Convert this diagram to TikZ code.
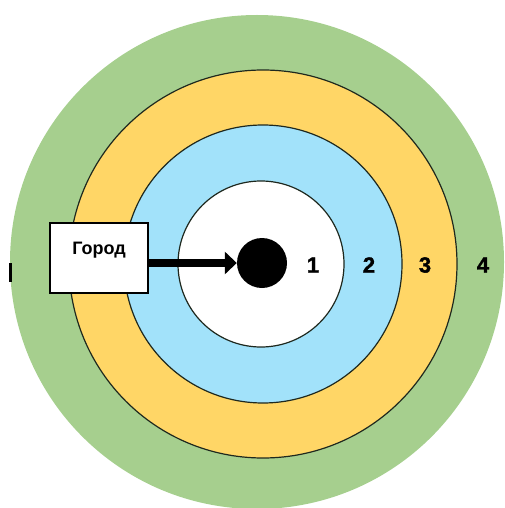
\documentclass[tikz,border=0pt]{standalone}
\usepackage{fontspec}
\setmainfont{Liberation Sans}
\newfontfamily\heavyfont[UprightFont={* Bold}, FakeBold=1.6]{Liberation Sans}
\usetikzlibrary{arrows.meta}
\definecolor{ringgreen}{RGB}{166,207,142}
\definecolor{ringyellow}{RGB}{255,214,102}
\definecolor{ringblue}{RGB}{162,226,250}
\definecolor{ringline}{RGB}{30,40,30}
\tikzset{
  ring/.style={draw=ringline, line width=1.2pt},
  numlabel/.style={font=\fontsize{22}{24}\heavyfont, inner sep=0pt},
  citybox/.style={draw=black, line width=2pt, fill=white, minimum width=98pt, minimum height=70pt,
    inner sep=0pt, text height=13pt, text depth=21pt, font=\fontsize{18}{20}\selectfont\bfseries},
  core/.style={circle, fill=black, minimum size=50pt, inner sep=0pt},
  pointer/.style={line width=8pt, -{Triangle[length=12pt,width=22pt]}}
}
\begin{document}
\begin{tikzpicture}[x=1pt,y=-1pt]
\useasboundingbox (0,0) rectangle (504,508);
\fill[ringgreen] (257,262) circle (247pt);
\filldraw[ring, fill=ringyellow] (263,264) circle (194pt);
\filldraw[ring, fill=ringblue] (263,264) circle (139pt);
\filldraw[ring, fill=white] (261,264) circle (83pt);
\node[core] (dot) at (262,263) {};
\node[numlabel] (n1) at (313,265) {1};
\node[numlabel] (n2) at (369,265) {2};
\node[numlabel] (n3) at (425,265) {3};
\node[numlabel] (n4) at (483,265) {4};
\node[citybox] (box) at (99,258) {Город};
\draw[pointer] (box.east |- dot) -- (dot.west);
\fill[black] (9,263) rectangle (12,282);
\end{tikzpicture}
\end{document}
